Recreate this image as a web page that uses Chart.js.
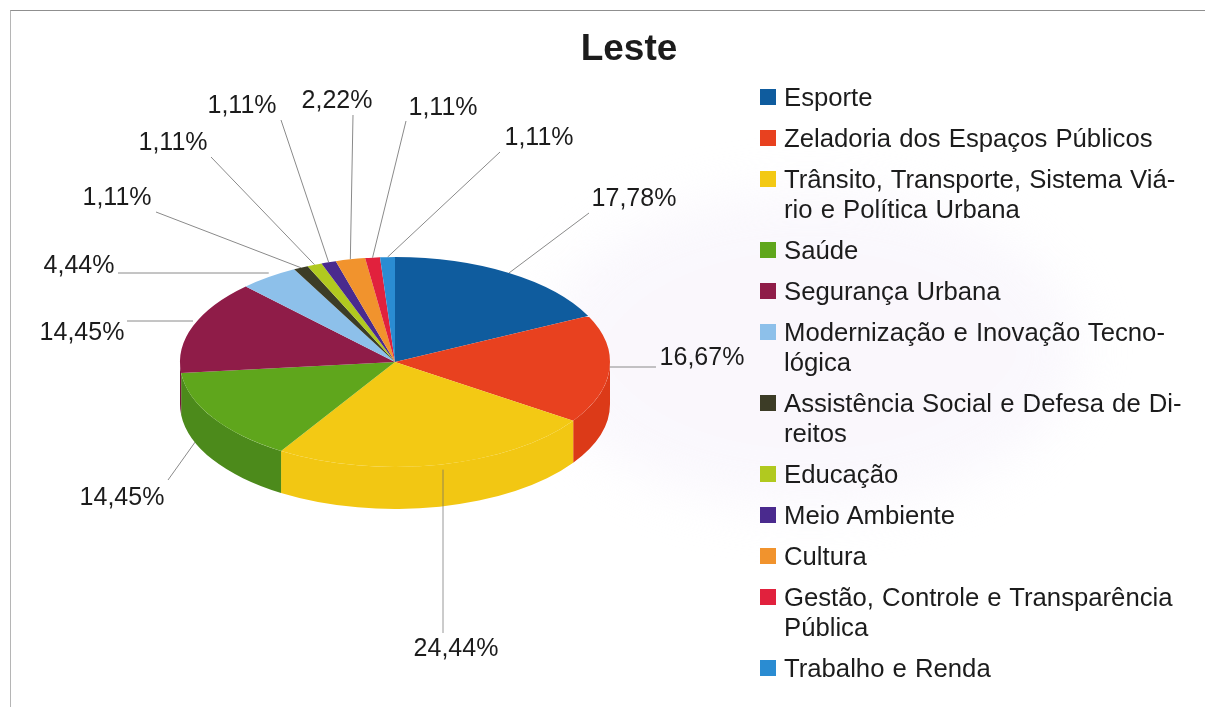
<!DOCTYPE html>
<html lang="pt">
<head>
<meta charset="utf-8">
<title>Leste</title>
<script src="https://cdn.jsdelivr.net/npm/chart.js@4"></script>
<style>
  html, body { margin: 0; padding: 0; background: #fff; }
  #wrap { position: relative; width: 1205px; height: 707px; overflow: hidden; font-family: "Liberation Sans", Arial, sans-serif; }
  /* leve mancha do verso da folha digitalizada */
  #ghost { position: absolute; left: 540px; top: 190px; width: 540px; height: 320px; border-radius: 50%;
           background: #f6f2fb; filter: blur(25px); opacity: .55; }
  #frame { position: absolute; left: 10px; top: 10px; width: 1300px; height: 800px; border-top: 1px solid #8f8f8f; border-left: 1px solid #b5b5b5; }
  canvas { position: absolute; left: 0; top: 0; }
  #legend { position: absolute; left: 760px; top: 82px; margin: 0; padding: 0; list-style: none; font-size: 25.7px; line-height: 30px; color: #1c1c1c; }
  #legend li { position: relative; padding-left: 24px; margin-bottom: 11px; white-space: nowrap; word-spacing: 1px; }
  #legend i { position: absolute; left: 0; top: 7px; width: 16px; height: 16px; }
</style>
</head>
<body>
<div id="wrap">
  <div id="ghost"></div>
  <div id="frame"></div>
  <canvas id="pie" width="1205" height="707"></canvas>
  <ul id="legend"></ul>
</div>
<script>
const chartTitle = 'Leste';
const categories = ['Esporte', 'Zeladoria dos Espaços Públicos', 'Trânsito, Transporte, Sistema Viário e Política Urbana',
  'Saúde', 'Segurança Urbana', 'Modernização e Inovação Tecnológica', 'Assistência Social e Defesa de Direitos',
  'Educação', 'Meio Ambiente', 'Cultura', 'Gestão, Controle e Transparência Pública', 'Trabalho e Renda'];
const values = [17.78, 16.67, 24.44, 14.45, 14.45, 4.44, 1.11, 1.11, 1.11, 2.22, 1.11, 1.11];
// quebras da legenda como no original
const legendLines = [['Esporte'], ['Zeladoria dos Espaços Públicos'], ['Trânsito, Transporte, Sistema Viá-', 'rio e Política Urbana'],
  ['Saúde'], ['Segurança Urbana'], ['Modernização e Inovação Tecno-', 'lógica'], ['Assistência Social e Defesa de Di-', 'reitos'],
  ['Educação'], ['Meio Ambiente'], ['Cultura'], ['Gestão, Controle e Transparência', 'Pública'], ['Trabalho e Renda']];

const topColors = ['#0f5c9e', '#e8411f', '#f3c914', '#5fa61c', '#8f1c48', '#8dc0ea', '#3c3c26', '#b1c91f', '#4a2a8e', '#f1932d', '#e1213d', '#2a8cd2'];
const sideColors = ['#0c4a80', '#dc3a18', '#f2c713', '#4c8a1b', '#74163a', '#7aa8cf', '#2e2e1d', '#93a818', '#3a2170', '#d07a20', '#b91a32', '#2272ab'];

// onde cada rótulo fica (centro do texto) e onde a linha guia termina
const labelPos = [[634, 198], [702, 357], [456, 648], [122, 497], [82, 332], [79, 265], [117, 197], [173, 142], [242, 105], [337, 100], [443, 107], [539, 137]];
const leaderEnd = [[589, 213], [656, 367], [443, 633], [168, 480], [127, 321], [118, 273], [156, 212], [211, 157], [281, 120], [353, 115], [406, 121], [500, 152]];
const flatLeaders = [1, 4, 5];

const pieY = 362, squash = 0.488, depth = 42;

function rimPoint(el, cx) {
  const a = (el.startAngle + el.endAngle) / 2;
  return [cx + Math.cos(a) * el.outerRadius, pieY + Math.sin(a) * el.outerRadius * squash];
}

const pie3d = {
  id: 'pie3d',
  beforeDatasetsDraw(chart) {
    const ctx = chart.ctx, arcs = chart.getDatasetMeta(0).data;
    // linhas guia ficam atrás da pizza
    ctx.save();
    ctx.strokeStyle = '#8a8a8a';
    ctx.lineWidth = 1;
    arcs.forEach((el, i) => {
      if (i === 2) return;
      const p = rimPoint(el, el.x);
      ctx.beginPath();
      ctx.moveTo(leaderEnd[i][0], leaderEnd[i][1]);
      ctx.lineTo(p[0], flatLeaders.includes(i) ? leaderEnd[i][1] : p[1]);
      ctx.stroke();
    });
    // parede lateral, só na metade da frente
    arcs.forEach((el, i) => {
      const a0 = Math.max(el.startAngle, 0), a1 = Math.min(el.endAngle, Math.PI);
      if (a1 <= a0) return;
      const rx = el.outerRadius, ry = rx * squash;
      ctx.beginPath();
      ctx.ellipse(el.x, pieY, rx, ry, 0, a0, a1);
      ctx.ellipse(el.x, pieY + depth, rx, ry, 0, a1, a0, true);
      ctx.closePath();
      ctx.fillStyle = sideColors[i];
      ctx.fill();
    });
    ctx.restore();
  },
  beforeDatasetDraw(chart) {
    const ctx = chart.ctx, el = chart.getDatasetMeta(0).data[0];
    ctx.save();
    ctx.translate(el.x, pieY);
    ctx.scale(1, squash);
    ctx.translate(-el.x, -el.y);
  },
  afterDatasetDraw(chart) {
    chart.ctx.restore();
  },
  afterDatasetsDraw(chart) {
    const ctx = chart.ctx, arcs = chart.getDatasetMeta(0).data;
    ctx.save();
    // a guia de Trânsito passa por cima da fatia
    const p = rimPoint(arcs[2], arcs[2].x);
    ctx.strokeStyle = 'rgba(110,110,110,.7)';
    ctx.beginPath();
    ctx.moveTo(leaderEnd[2][0], leaderEnd[2][1]);
    ctx.lineTo(leaderEnd[2][0], p[1] + 5);
    ctx.stroke();

    ctx.fillStyle = '#1c1c1c';
    ctx.textAlign = 'center';
    ctx.textBaseline = 'middle';
    ctx.font = '25px "Liberation Sans", Arial, sans-serif';
    values.forEach((v, i) => {
      ctx.fillText(v.toFixed(2).replace('.', ',') + '%', labelPos[i][0], labelPos[i][1] + 1);
    });
    ctx.font = 'bold 37px "Liberation Sans", Arial, sans-serif';
    ctx.fillText(chartTitle, 629, 50);
    ctx.restore();
  }
};

new Chart(document.getElementById('pie'), {
  type: 'pie',
  data: {
    labels: categories,
    datasets: [{ data: values, backgroundColor: topColors, borderWidth: 0, clip: false }]
  },
  options: {
    responsive: false,
    animation: false,
    radius: 215,
    layout: { padding: { right: 415 } },
    plugins: { legend: { display: false }, title: { display: false }, tooltip: { enabled: false } }
  },
  plugins: [pie3d]
});

const legend = document.getElementById('legend');
legendLines.forEach((lines, i) => {
  const li = document.createElement('li');
  const box = document.createElement('i');
  box.style.background = topColors[i];
  li.appendChild(box);
  lines.forEach((t, k) => {
    if (k) li.appendChild(document.createElement('br'));
    li.appendChild(document.createTextNode(t));
  });
  legend.appendChild(li);
});
</script>
</body>
</html>
